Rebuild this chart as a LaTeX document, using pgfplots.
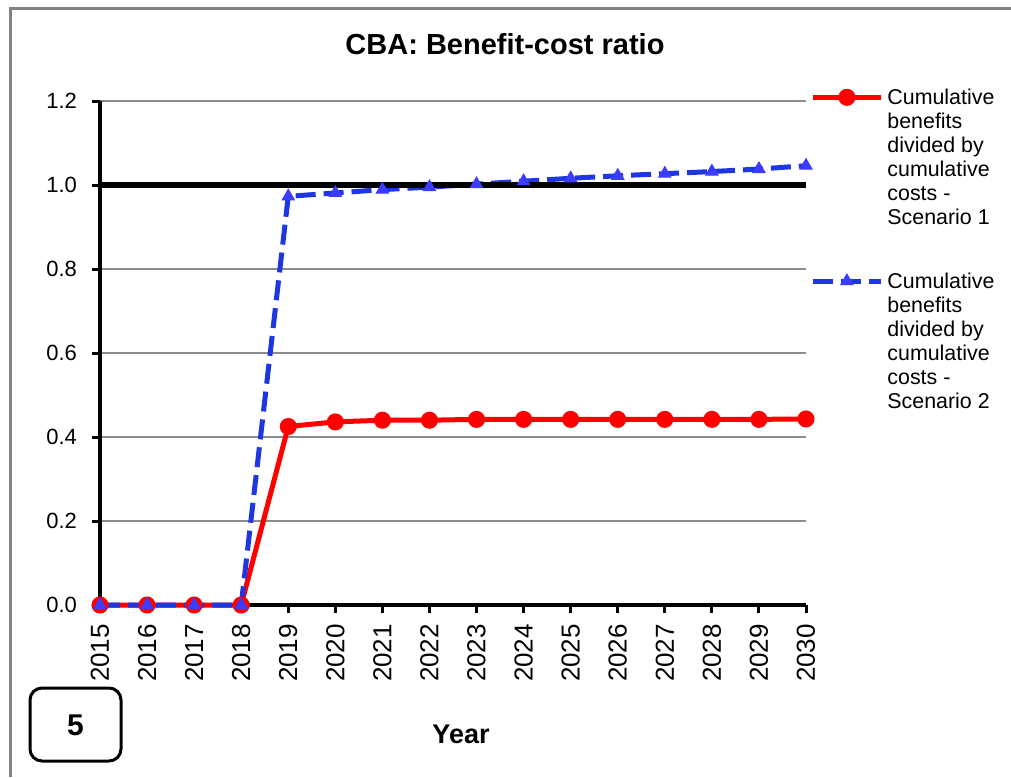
\documentclass[border=0pt]{standalone}
\usepackage{fontspec}
\setmainfont{Liberation Sans}
\usepackage{pgfplots}
\pgfplotsset{compat=1.18}
\definecolor{myred}{RGB}{255,0,0}
\definecolor{myblue}{RGB}{30,55,225}
\definecolor{markblue}{RGB}{60,60,255}
\definecolor{gridgray}{RGB}{140,140,140}
\definecolor{framegray}{RGB}{130,130,130}
\begin{document}
\begin{tikzpicture}
\useasboundingbox (0,0) rectangle (505.5pt,-388.5pt);
\fill[white] (0,0) rectangle (505.5pt,-388.5pt);
\draw[framegray, line width=1.5pt] (5pt,-388.5pt) -- (5pt,-4pt) -- (505.5pt,-4pt);
\node[font=\bfseries\fontsize{14.5}{16}\selectfont] at (252.5pt,-22pt) {CBA: Benefit-cost ratio};
\begin{axis}[
  scale only axis, width=353pt, height=252pt,
  at={(50pt,-302.5pt)}, anchor=south west,
  xmin=2015, xmax=2030, ymin=0, ymax=1.2,
  clip=false,
  axis x line=bottom, axis y line=left,
  axis line style={-, black, line width=1.75pt},
  xtick={2015,2016,2017,2018,2019,2020,2021,2022,2023,2024,2025,2026,2027,2028,2029,2030},
  xticklabels={2015,2016,2017,2018,2019,2020,2021,2022,2023,2024,2025,2026,2027,2028,2029,2030},
  ytick={0,0.2,0.4,0.6,0.8,1.0,1.2},
  yticklabels={0.0,0.2,0.4,0.6,0.8,1.0,1.2},
  x tick label style={rotate=90, anchor=east, font=\fontsize{13}{13}\selectfont, xshift=-2pt},
  y tick label style={font=\fontsize{11}{11}\selectfont, xshift=-4pt},
  tick align=outside, major tick length=4pt,
  tick style={black, line width=1.5pt},
  ymajorgrids, grid style={gridgray, line width=0.75pt},
  legend cell align=left,
  legend style={at={(axis description cs:1,1)}, anchor=north west, draw=none, fill=none,
    xshift=-1pt, yshift=11pt, font=\fontsize{10.7}{12}\selectfont, row sep=78pt},
  legend image code/.code={\draw[mark repeat=2,mark phase=2,#1] plot coordinates {(0pt,0pt) (17pt,0pt) (34pt,0pt)};},
]
\addplot[myred, line width=2.5pt, mark=*, mark size=3pt, mark options={solid}] coordinates {
(2015,0) (2016,0) (2017,0) (2018,0) (2019,0.425) (2020,0.436) (2021,0.440) (2022,0.440)
(2023,0.442) (2024,0.442) (2025,0.442) (2026,0.442) (2027,0.442) (2028,0.442) (2029,0.442) (2030,0.443)};
\addlegendentry{\begin{tabular}[t]{@{}l@{}}Cumulative\\ benefits\\ divided by\\ cumulative\\ costs -\\ Scenario 1\end{tabular}}
\addplot[myblue, line width=2.5pt, dash pattern=on 10pt off 4pt, mark=triangle*, mark size=3.5pt,
  mark options={solid, fill=markblue, draw=markblue, line width=0.5pt}] coordinates {
(2015,0) (2016,0) (2017,0) (2018,0) (2019,0.973) (2020,0.981) (2021,0.989) (2022,0.995)
(2023,1.002) (2024,1.009) (2025,1.016) (2026,1.022) (2027,1.027) (2028,1.032) (2029,1.038) (2030,1.046)};
\addlegendentry{\begin{tabular}[t]{@{}l@{}}Cumulative\\ benefits\\ divided by\\ cumulative\\ costs -\\ Scenario 2\end{tabular}}
\addplot[black, line width=3pt, forget plot] coordinates {(2015,1) (2030,1)};
\end{axis}
\draw[black, line width=1.5pt, rounded corners=6pt] (15pt,-344pt) rectangle (60.5pt,-380.5pt);
\node[font=\bfseries\fontsize{15}{15}\selectfont] at (37.75pt,-362.5pt) {5};
\node[font=\bfseries\fontsize{13.5}{13.5}\selectfont] at (230.5pt,-367pt) {Year};
\end{tikzpicture}
\end{document}
